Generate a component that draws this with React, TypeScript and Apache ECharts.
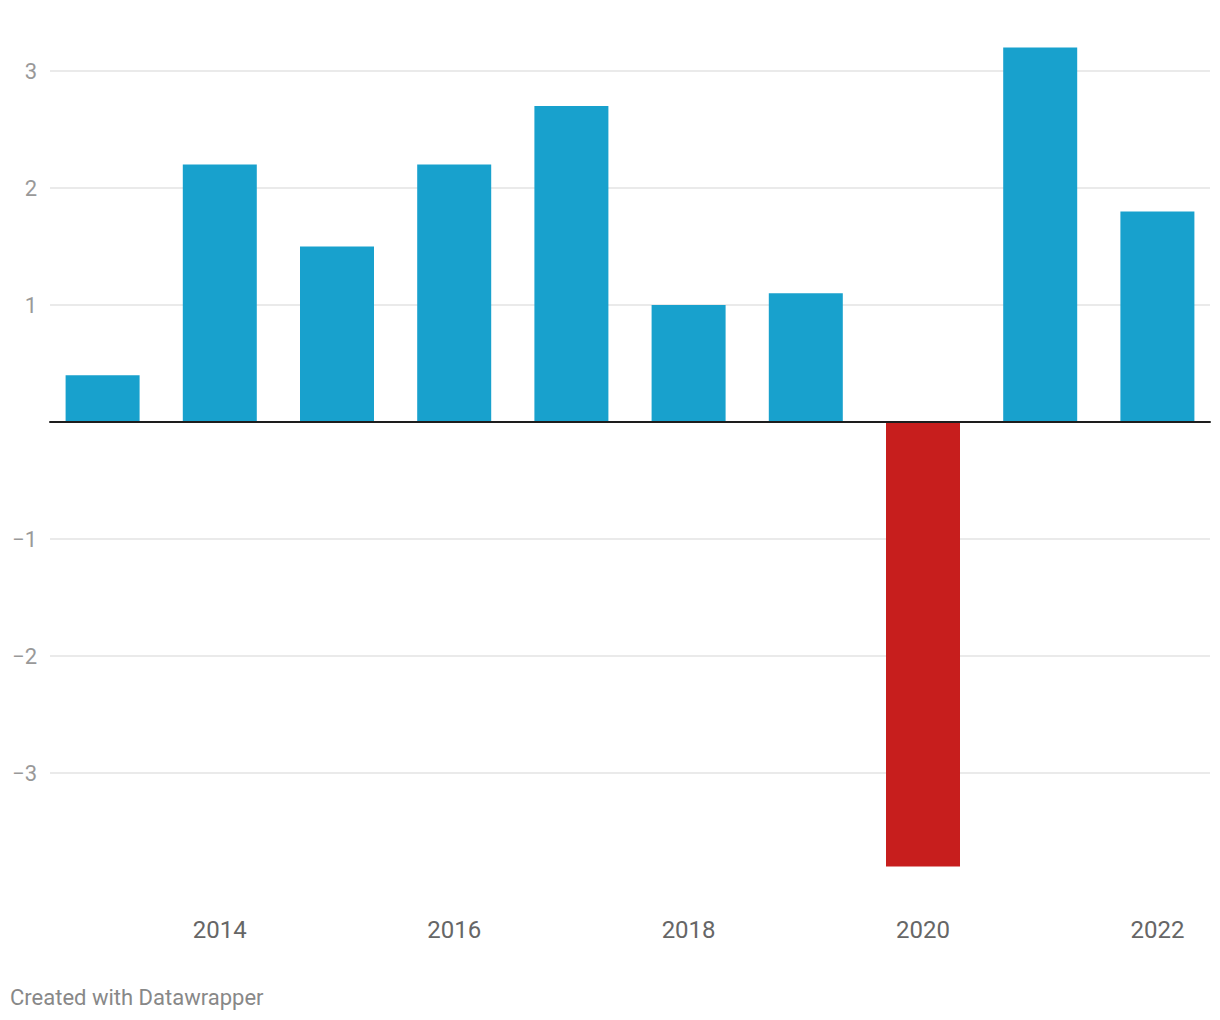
import React, { useEffect, useRef } from "react";
import * as echarts from "echarts";

const years = ["2013", "2014", "2015", "2016", "2017", "2018", "2019", "2020", "2021", "2022"];
const values = [0.4, 2.2, 1.5, 2.2, 2.7, 1.0, 1.1, -3.8, 3.2, 1.8];
const footer = "Created with Datawrapper";

const BLUE = "#18a1cd";
const RED = "#c71e1d";

export default function App() {
  const ref = useRef<HTMLDivElement>(null);
  useEffect(() => {
    document.body.style.margin = "0";
    const chart = echarts.init(ref.current!, null, { renderer: "svg" });
    const yMin = -4;
    const yMax = 3.5;
    chart.setOption({
      animation: false,
      backgroundColor: "#ffffff",
      textStyle: { fontFamily: "Roboto" },
      grid: [
        { left: 50, right: 10, top: 12.5, bottom: 130, containLabel: false },
        { left: 44, right: 4, top: 12.5, bottom: 130, containLabel: false },
      ],
      xAxis: [
        {
          type: "category",
          gridIndex: 0,
          data: years,
          z: 10,
          axisLine: { show: true, onZero: true, lineStyle: { color: "#1d1d1d", width: 2 } },
          axisTick: { show: false },
          axisLabel: { show: false },
          splitLine: { show: false },
        },
        {
          type: "category",
          gridIndex: 1,
          data: years,
          axisLine: { show: false },
          axisTick: { show: false },
          axisLabel: {
            interval: (i: number) => i % 2 === 1,
            color: "#666666",
            fontSize: 24,
            fontFamily: "Roboto",
            margin: 28,
          },
        },
      ],
      yAxis: [
        {
          type: "value",
          gridIndex: 0,
          min: yMin,
          max: yMax,
          interval: 1,
          axisLine: { show: false },
          axisTick: { show: false },
          axisLabel: {
            showMinLabel: false,
            showMaxLabel: false,
            color: "#999999",
            fontSize: 22,
            fontFamily: "Roboto",
            margin: 13,
            formatter: (v: number) => (v === 0 ? "" : v < 0 ? "\u2212" + Math.abs(v) : String(v)),
          },
          splitLine: {
            show: true,
            lineStyle: {
              color: ["transparent", "#e3e3e3", "#e3e3e3", "#e3e3e3", "#e3e3e3", "#e3e3e3", "#e3e3e3", "#e3e3e3"],
              width: 1.5,
            },
          },
        },
        {
          type: "value",
          gridIndex: 1,
          min: yMin,
          max: yMax,
          interval: 1,
          show: false,
          splitLine: { show: false },
        },
      ],
      series: [
        {
          type: "bar",
          xAxisIndex: 1,
          yAxisIndex: 1,
          barWidth: 74,
          data: values.map((v) => ({ value: v, itemStyle: { color: v < 0 ? RED : BLUE } })),
        },
      ],
      graphic: [
        {
          type: "text",
          x: 10,
          y: 997,
          style: {
            text: footer,
            fill: "#888888",
            fontSize: 22,
            fontFamily: "Roboto",
            textVerticalAlign: "middle",
          },
        },
      ],
    });
    return () => chart.dispose();
  }, []);
  return <div ref={ref} style={{ width: 1220, height: 1020 }} />;
}
